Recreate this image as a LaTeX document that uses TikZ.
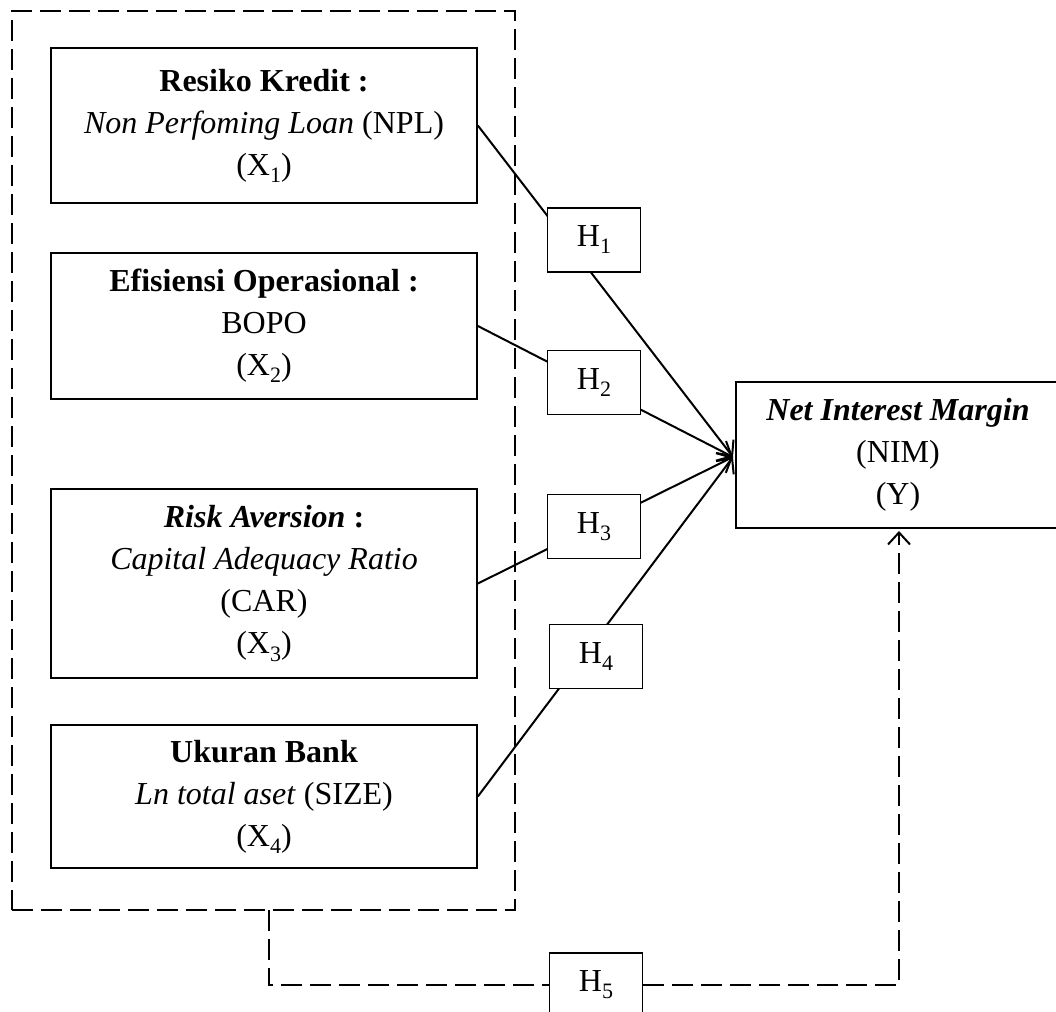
\documentclass[tikz,border=0pt]{standalone}
\usepackage{fontspec}
\setmainfont{Liberation Serif}
\usetikzlibrary{arrows.meta}
\newcommand{\mysub}[1]{\raisebox{-0.22em}{\fontsize{11}{12}\selectfont #1}}
\begin{document}
\begin{tikzpicture}[x=0.5pt,y=-0.5pt,
  every node/.style={font=\fontsize{16}{21}\selectfont},
  varbox/.style={draw, line width=0.85pt, align=center, inner sep=0pt, minimum width=213pt},
  hbox/.style={draw, line width=0.85pt, fill=white, inner sep=0pt, minimum width=46.5pt, minimum height=32pt},
  tipstyle/.style={-{Straight Barb[length=6pt,width=11pt,line width=1pt]}},
  conn/.style={line width=1pt, tipstyle},
  dashline/.style={line width=1.4pt, dash pattern=on 10.5pt off 4pt},
]
\clip (0,0) rectangle (1056,1012);
% outer dashed group
\node[draw, dashline, inner sep=0pt, minimum width=251.5pt, minimum height=449.5pt] (grp) at (263.5,460.5) {};
% variable boxes
\node[varbox, minimum height=77.5pt] (x1) at (264,125.5)
  {\textbf{Resiko Kredit :}\\ \textit{Non Perfoming Loan} (NPL)\\ (X\mysub{1})};
\node[varbox, minimum height=73pt] (x2) at (264,326)
  {\textbf{Efisiensi Operasional :}\\ BOPO\\ (X\mysub{2})};
\node[varbox, minimum height=94.5pt] (x3) at (264,583.5)
  {\textbf{\textit{Risk Aversion} :}\\ \textit{Capital Adequacy Ratio}\\ (CAR)\\ (X\mysub{3})};
\node[varbox, minimum height=71.5pt] (x4) at (264,796.5)
  {\textbf{Ukuran Bank}\\ \textit{Ln total aset} (SIZE)\\ (X\mysub{4})};
% dependent variable
\node[draw, line width=0.85pt, align=center, inner sep=0pt, minimum width=162pt, minimum height=73pt] (nim) at (898,455)
  {\textbf{\textit{Net Interest Margin}}\\ (NIM)\\ (Y)};
\coordinate (tip) at (733,457);
\coordinate (drop) at (269,910);
\coordinate (nimin) at (899,531);
% connectors
\draw[conn] (x1.east) -- (tip);
\draw[conn] (x2.east) -- (tip);
\draw[conn] (x3.east) -- (tip);
\draw[conn] (x4.east) -- (tip);
% hypothesis boxes
\node[hbox] (h1) at (594,240) {H\mysub{1}};
\node[hbox] (h2) at (594,382.5) {H\mysub{2}};
\node[hbox] (h3) at (594,526.5) {H\mysub{3}};
\node[hbox] (h4) at (596,656.5) {H\mysub{4}};
\node[hbox] (h5) at (596,985) {H\mysub{5}};
% moderation / simultaneous path
\draw[dashline] (drop) |- (h5.west);
\draw[dashline, tipstyle] (h5.east) -| (nimin);
\end{tikzpicture}
\end{document}
